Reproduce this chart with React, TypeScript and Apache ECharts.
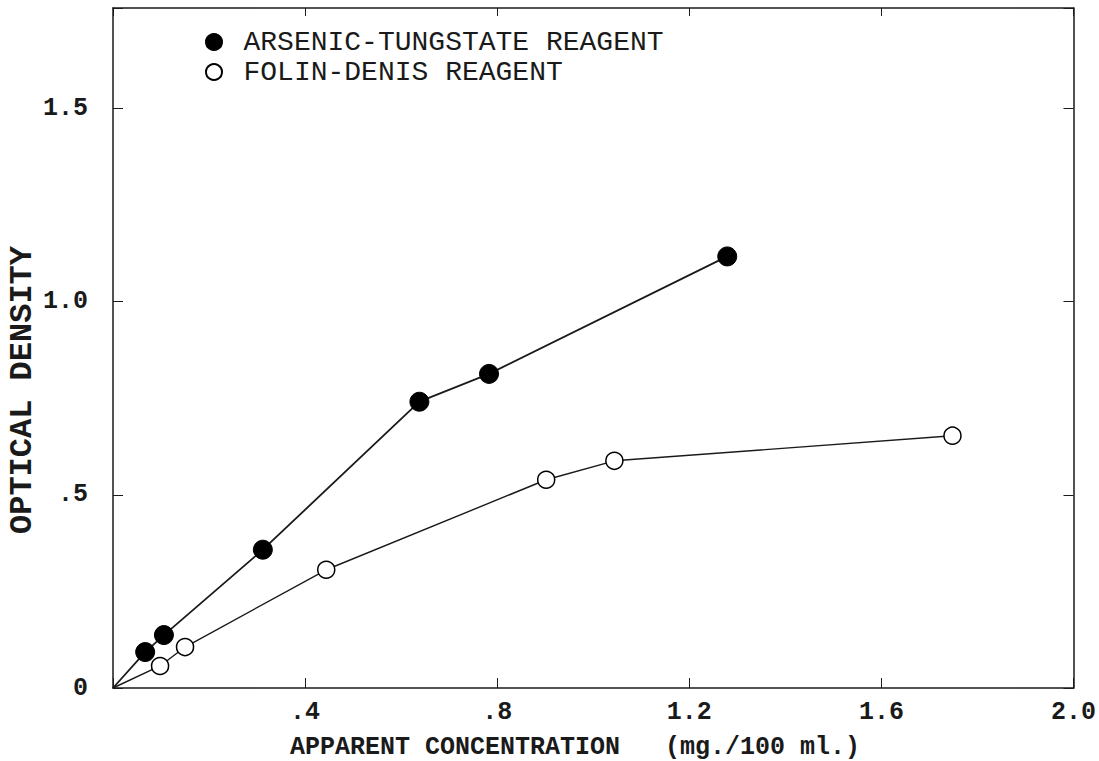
import React, { useEffect, useRef } from "react";
import * as echarts from "echarts";

const arsenicX = [0, 0.067, 0.106, 0.312, 0.638, 0.783, 1.279];
const arsenicY = [0, 0.093, 0.137, 0.358, 0.741, 0.813, 1.117];
const folinX = [0, 0.098, 0.15, 0.444, 0.902, 1.044, 1.748];
const folinY = [0, 0.057, 0.106, 0.306, 0.539, 0.588, 0.653];
const xTickLabels: Record<string, string> = { "0.4": ".4", "0.8": ".8", "1.2": "1.2", "1.6": "1.6", "2": "2.0" };
const yTickLabels: Record<string, string> = { "0": "0", "0.5": ".5", "1": "1.0", "1.5": "1.5" };
const seriesNames = ["ARSENIC-TUNGSTATE REAGENT", "FOLIN-DENIS REAGENT"];

const FONT = "'Liberation Mono', 'DejaVu Sans Mono', monospace";
const INK = "#1a1a1a";

function pts(xs: number[], ys: number[]) {
  return xs.map((x, i) => (i === 0 ? { value: [x, ys[i]], symbol: "none" } : { value: [x, ys[i]] }));
}

export default function App() {
  const ref = useRef<HTMLDivElement>(null);
  useEffect(() => {
    document.body.style.margin = "0";
    const chart = echarts.init(ref.current!, null, { renderer: "svg" });
    const axisLine = { show: true, onZero: false, lineStyle: { color: INK, width: 1.5 } };
    chart.setOption({
      animation: false,
      backgroundColor: "#ffffff",
      grid: { left: 113, right: 24, top: 8, bottom: 73 },
      legend: {
        left: 200,
        top: 23,
        orient: "vertical",
        itemGap: 2,
        itemWidth: 17,
        itemHeight: 16,
        data: [
          { name: seriesNames[0], icon: "circle" },
          { name: seriesNames[1], icon: "circle" },
        ],
        textStyle: { fontFamily: FONT, fontSize: 28, lineHeight: 26, color: INK, padding: [0, 0, 0, 16] },
      },
      xAxis: [
        {
          type: "value",
          min: 0,
          max: 2,
          interval: 0.4,
          axisLine,
          axisTick: { show: true, inside: true, length: 10, lineStyle: { color: INK } },
          splitLine: { show: false },
          axisLabel: {
            margin: 12,
            fontFamily: FONT,
            fontSize: 25,
            fontWeight: "bold",
            color: INK,
            formatter: (v: number) => xTickLabels[String(+v.toFixed(2))] ?? "",
          },
        },
        {
          type: "value",
          position: "top",
          min: 0,
          max: 2,
          interval: 0.4,
          axisLine,
          axisTick: { show: true, inside: true, length: 8, lineStyle: { color: INK } },
          axisLabel: { show: false },
          splitLine: { show: false },
        },
      ],
      yAxis: [
        {
          type: "value",
          min: 0,
          max: 1.76,
          interval: 0.5,
          axisLine,
          axisTick: { show: true, inside: true, length: 10, lineStyle: { color: INK } },
          splitLine: { show: false },
          axisLabel: {
            margin: 25,
            fontFamily: FONT,
            fontSize: 25,
            fontWeight: "bold",
            color: INK,
            formatter: (v: number) => yTickLabels[String(+v.toFixed(2))] ?? "",
          },
        },
        {
          type: "value",
          position: "right",
          min: 0,
          max: 1.76,
          interval: 0.5,
          axisLine,
          axisTick: { show: true, inside: true, length: 10, lineStyle: { color: INK } },
          axisLabel: { show: false },
          splitLine: { show: false },
        },
      ],
      graphic: [
        {
          type: "text",
          x: 575,
          y: 747,
          style: {
            text: "APPARENT CONCENTRATION   (mg./100 ml.)",
            font: `bold 25px ${FONT}`,
            fill: INK,
            textAlign: "center",
            textVerticalAlign: "middle",
          },
        },
        {
          type: "text",
          x: 22,
          y: 390,
          rotation: Math.PI / 2,
          style: {
            text: "OPTICAL DENSITY",
            font: `bold 32px ${FONT}`,
            fill: INK,
            textAlign: "center",
            textVerticalAlign: "middle",
          },
        },
      ],
      series: [
        {
          name: seriesNames[0],
          type: "line",
          data: pts(arsenicX, arsenicY),
          symbol: "circle",
          symbolSize: 19,
          showAllSymbol: true,
          lineStyle: { color: INK, width: 1.8 },
          itemStyle: { color: "#000000", borderColor: "#000000", borderWidth: 1 },
        },
        {
          name: seriesNames[1],
          type: "line",
          data: pts(folinX, folinY),
          symbol: "circle",
          symbolSize: 17,
          showAllSymbol: true,
          lineStyle: { color: INK, width: 1.4 },
          itemStyle: { color: "#ffffff", borderColor: "#000000", borderWidth: 1.5 },
        },
      ],
    });
    return () => chart.dispose();
  }, []);
  return <div ref={ref} style={{ position: "fixed", left: 0, top: 0, width: 1099, height: 761 }} />;
}
